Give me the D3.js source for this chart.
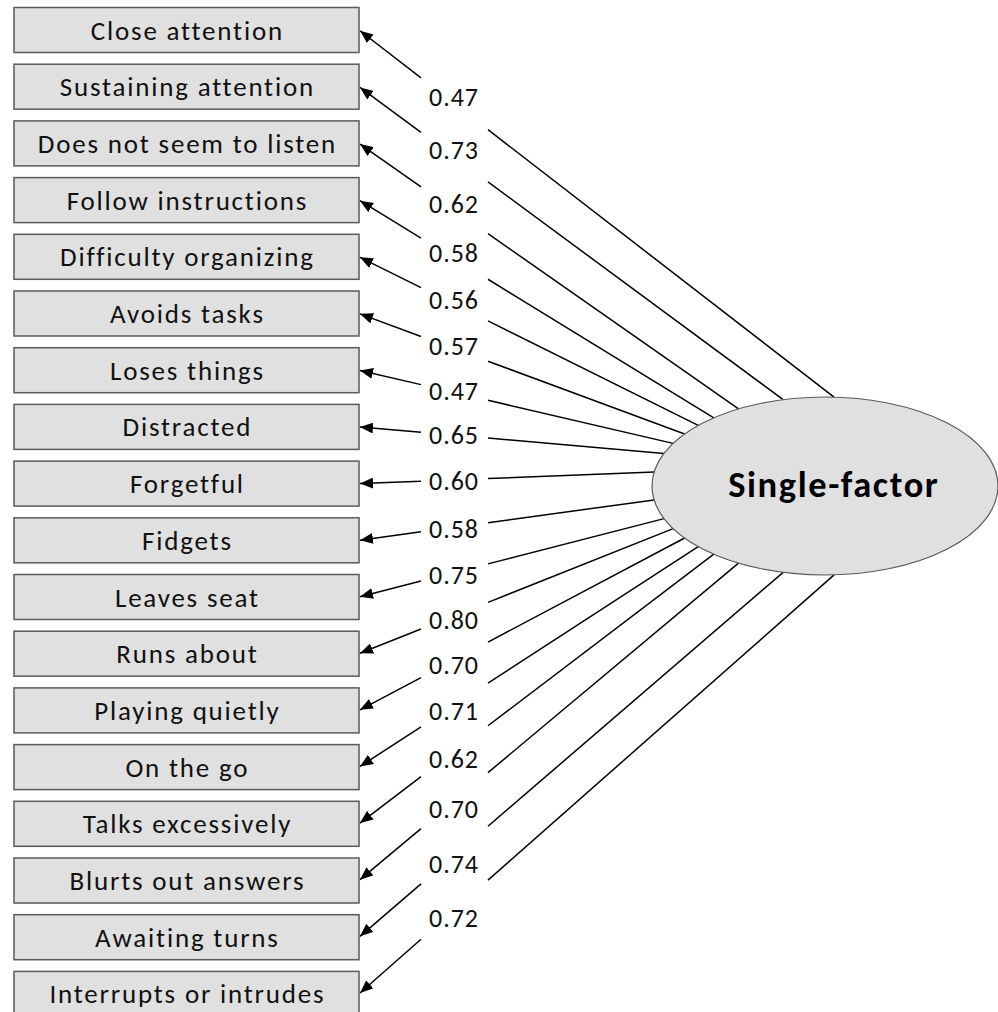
<!DOCTYPE html>
<html>
<head>
<meta charset="utf-8">
<script src="https://cdn.jsdelivr.net/npm/d3@7"></script>
<style>
  html, body { margin: 0; padding: 0; background: #fff; }
  svg { display: block; }
</style>
</head>
<body>
<svg id="chart" width="998" height="1012"></svg>
<script>
// ---- data ----
const items = [
  "Close attention", "Sustaining attention", "Does not seem to listen",
  "Follow instructions", "Difficulty organizing", "Avoids tasks",
  "Loses things", "Distracted", "Forgetful", "Fidgets", "Leaves seat",
  "Runs about", "Playing quietly", "On the go", "Talks excessively",
  "Blurts out answers", "Awaiting turns", "Interrupts or intrudes"
];
const loadings = [0.47, 0.73, 0.62, 0.58, 0.56, 0.57, 0.47, 0.65, 0.60,
                  0.58, 0.75, 0.80, 0.70, 0.71, 0.62, 0.70, 0.74, 0.72];
const factorName = "Single-factor";

// ---- layout ----
const svg = d3.select("#chart");
const boxLeft = 14, boxRight = 359, boxH = 45;
const fontFam = "Calibri, Carlito, Lato, 'Open Sans', sans-serif";

const y = d3.scalePoint().domain(items).range([30, 30 + 56.7 * 17]);

const ell = { cx: 825, cy: 486, rx: 173, ry: 89 };
// angular position (degrees from left tip) of each path's anchor on the ellipse
const anchorAngle = d3.scaleLinear().domain([0, 1, 2, 3, 7, 8]).range([93, 76, 60, 50, 21.5, 9]);
const half = Math.floor(items.length / 2);
function anchor(i) {
  const k = i < half ? i : items.length - 1 - i;
  const sgn = i < half ? 1 : -1;
  const a = anchorAngle(k) * Math.PI / 180 * sgn;
  return [ell.cx - ell.rx * Math.cos(a), ell.cy - ell.ry * Math.sin(a)];
}

const defs = svg.append("defs");
defs.append("marker")
  .attr("id", "arrow")
  .attr("viewBox", "0 0 12 10")
  .attr("refX", 12).attr("refY", 5)
  .attr("markerUnits", "userSpaceOnUse")
  .attr("markerWidth", 13).attr("markerHeight", 11)
  .attr("orient", "auto")
  .append("path").attr("d", "M0,0 L12,5 L0,10 Z").attr("fill", "#000");

const gapL = 421, gapR = 488, labelX = 453.5, labelRefX = 445;
const fmt = d3.format(".2f");

// links
const links = svg.append("g");
items.forEach((name, i) => {
  const bx = boxRight, by = y(name);
  const [ex, ey] = anchor(i);
  const lineY = d3.scaleLinear().domain([bx, ex]).range([by, ey]);
  links.append("line")
    .attr("x1", gapR).attr("y1", lineY(gapR))
    .attr("x2", ex).attr("y2", ey)
    .attr("stroke", "#000").attr("stroke-width", 1.5);
  links.append("line")
    .attr("x1", gapL).attr("y1", lineY(gapL))
    .attr("x2", bx + 1).attr("y2", lineY(bx + 1))
    .attr("stroke", "#000").attr("stroke-width", 1.5)
    .attr("marker-end", "url(#arrow)");
  links.append("text")
    .attr("x", labelX + 0.45).attr("y", lineY(labelRefX) + 9.3)
    .attr("text-anchor", "middle")
    .attr("font-family", fontFam)
    .attr("font-size", 26)
    .attr("letter-spacing", 0.9)
    .attr("fill", "#111")
    .text(fmt(loadings[i]));
});

// boxes
const boxes = svg.append("g").selectAll("g").data(items).join("g");
boxes.append("rect")
  .attr("x", boxLeft).attr("y", d => y(d) - boxH / 2)
  .attr("width", boxRight - boxLeft).attr("height", boxH)
  .attr("fill", "#e0e0e0").attr("stroke", "#5a5a5a").attr("stroke-width", 1.5);
boxes.append("text")
  .attr("x", (boxLeft + boxRight) / 2 + 0.9).attr("y", d => y(d) + 9.5)
  .attr("text-anchor", "middle")
  .attr("font-family", fontFam).attr("font-size", 27)
  .attr("letter-spacing", 1.8)
  .attr("fill", "#111")
  .text(d => d);

// ellipse
svg.append("ellipse")
  .attr("cx", ell.cx).attr("cy", ell.cy).attr("rx", ell.rx).attr("ry", ell.ry)
  .attr("fill", "#e0e0e0").attr("stroke", "#5a5a5a").attr("stroke-width", 1.2);
svg.append("text")
  .attr("x", 833 + 0.8).attr("y", 496.7)
  .attr("text-anchor", "middle")
  .attr("font-family", fontFam).attr("font-weight", "bold").attr("font-size", 36.5)
  .attr("letter-spacing", 1.6)
  .attr("fill", "#000")
  .text(factorName);
</script>
</body>
</html>
